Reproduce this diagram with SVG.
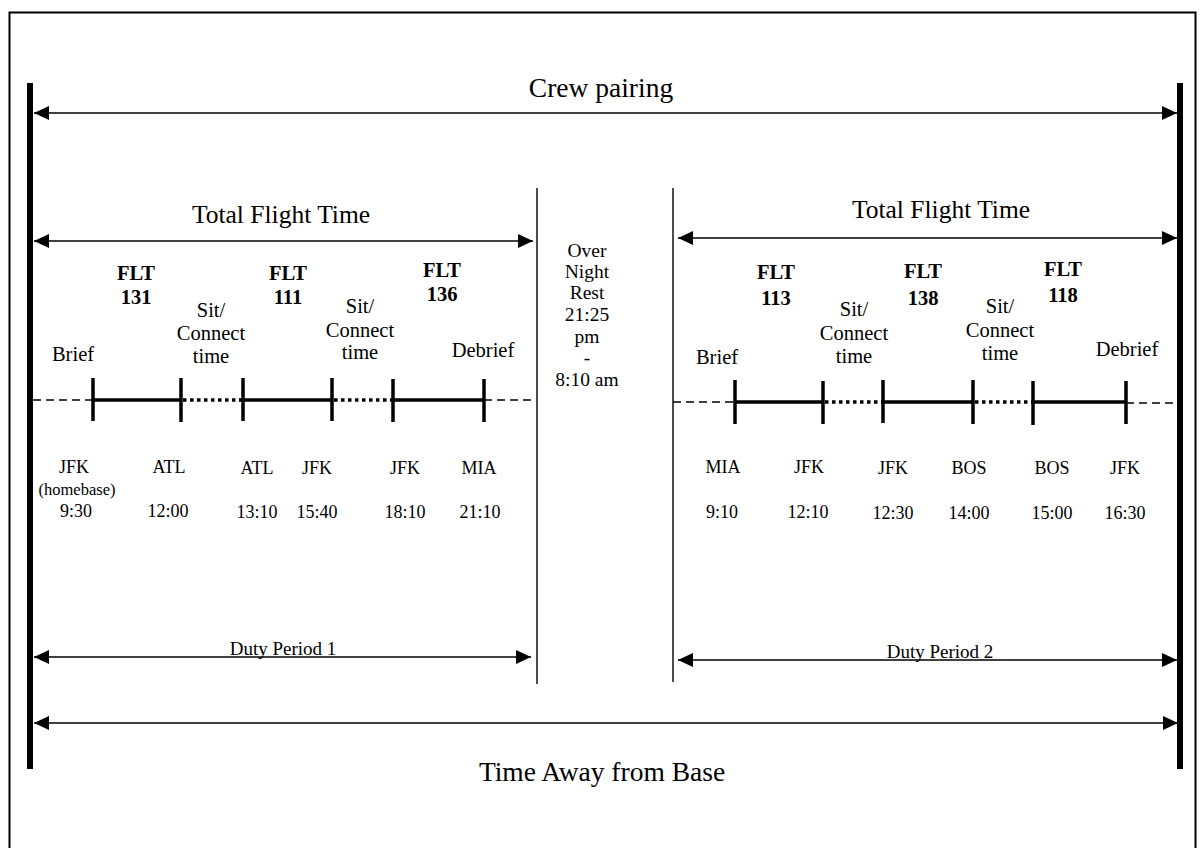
<svg xmlns="http://www.w3.org/2000/svg" width="1203" height="848" viewBox="0 0 1203 848">
  <defs>
    <marker id="arrow" markerUnits="userSpaceOnUse" markerWidth="16" markerHeight="16" refX="15" refY="7" orient="auto-start-reverse">
      <path d="M0,0 L15,7 L0,14 z" fill="#000"/>
    </marker>
    <style>
      text { font-family: "Liberation Serif", "Times New Roman", serif; fill: #000; text-anchor: middle; }
      .big { font-size: 27.5px; }
      .title { font-size: 25.5px; }
      .mid { font-size: 20.5px; }
      .rest { font-size: 19.5px; }
      .stop { font-size: 18px; }
      .note { font-size: 16.5px; }
      .small { font-size: 19px; }
      .bold { font-weight: bold; font-size: 20.5px; }
      .span { stroke: #000; stroke-width: 1.4; fill: none; marker-start: url(#arrow); marker-end: url(#arrow); }
      .bar { stroke: #000; stroke-width: 6; }
      .divider { stroke: #000; stroke-width: 1.4; }
      .dash { stroke: #000; stroke-width: 1.4; stroke-dasharray: 8 5; }
      .flight { stroke: #000; stroke-width: 3.5; }
      .sit { stroke: #000; stroke-width: 3.5; stroke-dasharray: 3.5 3.5; }
      .tick { stroke: #000; stroke-width: 3.5; }
    </style>
  </defs>

  <rect width="1203" height="848" fill="#fff"/>
  <!-- outer frame (runs past the bottom edge) -->
  <rect x="9.5" y="12.5" width="1186" height="860" fill="none" stroke="#000" stroke-width="2"/>

  <!-- base boundaries -->
  <g id="base-bounds">
    <line class="bar" x1="30" y1="83" x2="30" y2="769"/>
    <line class="bar" x1="1180" y1="83" x2="1180" y2="769"/>
  </g>

  <!-- duty period separators -->
  <g id="separators">
    <line class="divider" x1="537" y1="188" x2="537" y2="684"/>
    <line class="divider" x1="673" y1="188" x2="673" y2="682"/>
  </g>

  <!-- span arrows -->
  <g id="connectors">
    <line class="span" x1="34" y1="113" x2="1177" y2="113"/>
    <line class="span" x1="34" y1="241" x2="533" y2="241"/>
    <line class="span" x1="678" y1="238" x2="1177" y2="238"/>
    <line class="span" x1="34" y1="657" x2="531" y2="657"/>
    <line class="span" x1="678" y1="660" x2="1177" y2="660"/>
    <line class="span" x1="34" y1="723" x2="1178" y2="723"/>
  </g>

  <g id="crew-pairing"><text class="big" x="601" y="97">Crew pairing</text></g>
  <g id="total-flight-time-1"><text class="title" x="281" y="223">Total Flight Time</text></g>
  <g id="total-flight-time-2"><text class="title" x="941" y="218">Total Flight Time</text></g>
  <g id="duty-period-1"><text class="small" x="283" y="655">Duty Period 1</text></g>
  <g id="duty-period-2"><text class="small" x="940" y="658">Duty Period 2</text></g>
  <g id="time-away"><text class="big" x="602" y="781">Time Away from Base</text></g>

  <!-- overnight rest -->
  <g id="overnight-rest">
    <text class="rest" x="587" y="257">Over</text>
    <text class="rest" x="587" y="278">Night</text>
    <text class="rest" x="587" y="299">Rest</text>
    <text class="rest" x="587" y="321">21:25</text>
    <text class="rest" x="587" y="343">pm</text>
    <text class="rest" x="587" y="364">-</text>
    <text class="rest" x="587" y="386">8:10 am</text>
  </g>

  <!-- duty period 1 timeline -->
  <g id="timeline-1">
    <line class="dash" x1="33" y1="400" x2="93" y2="400"/>
    <line class="flight" x1="93" y1="400" x2="181" y2="400"/>
    <line class="sit" x1="183" y1="400" x2="243" y2="400"/>
    <line class="flight" x1="243" y1="400" x2="332" y2="400"/>
    <line class="sit" x1="334" y1="400" x2="393" y2="400"/>
    <line class="flight" x1="393" y1="400" x2="484" y2="400"/>
    <line class="dash" x1="484" y1="400" x2="533" y2="400"/>
    <line class="tick" x1="93" y1="378" x2="93" y2="421"/>
    <line class="tick" x1="181" y1="378" x2="181" y2="422"/>
    <line class="tick" x1="243" y1="378" x2="243" y2="421"/>
    <line class="tick" x1="332" y1="378" x2="332" y2="421"/>
    <line class="tick" x1="393" y1="379" x2="393" y2="422"/>
    <line class="tick" x1="484" y1="379" x2="484" y2="422"/>
  </g>

  <g id="labels-1">
    <text class="mid" x="73" y="361">Brief</text>
    <text class="bold" x="136" y="280">FLT</text>
    <text class="bold" x="136" y="304">131</text>
    <text class="mid" x="211" y="317">Sit/</text>
    <text class="mid" x="211" y="340">Connect</text>
    <text class="mid" x="211" y="363">time</text>
    <text class="bold" x="288" y="280">FLT</text>
    <text class="bold" x="288" y="304">111</text>
    <text class="mid" x="360" y="313">Sit/</text>
    <text class="mid" x="360" y="337">Connect</text>
    <text class="mid" x="360" y="359">time</text>
    <text class="bold" x="442" y="277">FLT</text>
    <text class="bold" x="442" y="301">136</text>
    <text class="mid" x="483" y="357">Debrief</text>

    <text class="stop" x="74" y="473">JFK</text>
    <text class="note" x="77" y="495">(homebase)</text>
    <text class="stop" x="76" y="517">9:30</text>
    <text class="stop" x="169" y="473">ATL</text>
    <text class="stop" x="168" y="517">12:00</text>
    <text class="stop" x="257" y="474">ATL</text>
    <text class="stop" x="257" y="518">13:10</text>
    <text class="stop" x="317" y="474">JFK</text>
    <text class="stop" x="317" y="518">15:40</text>
    <text class="stop" x="405" y="474">JFK</text>
    <text class="stop" x="405" y="518">18:10</text>
    <text class="stop" x="479" y="474">MIA</text>
    <text class="stop" x="480" y="518">21:10</text>
  </g>

  <!-- duty period 2 timeline -->
  <g id="timeline-2">
    <line class="dash" x1="673" y1="402" x2="735" y2="402"/>
    <line class="flight" x1="735" y1="402" x2="823" y2="402"/>
    <line class="sit" x1="825" y1="402" x2="883" y2="402"/>
    <line class="flight" x1="883" y1="402" x2="973" y2="402"/>
    <line class="sit" x1="975" y1="402" x2="1033" y2="402"/>
    <line class="flight" x1="1033" y1="402" x2="1126" y2="402"/>
    <line class="dash" x1="1126" y1="403" x2="1174" y2="403"/>
    <line class="tick" x1="735" y1="380" x2="735" y2="424"/>
    <line class="tick" x1="823" y1="381" x2="823" y2="424"/>
    <line class="tick" x1="883" y1="380" x2="883" y2="423"/>
    <line class="tick" x1="973" y1="380" x2="973" y2="424"/>
    <line class="tick" x1="1033" y1="381" x2="1033" y2="425"/>
    <line class="tick" x1="1126" y1="381" x2="1126" y2="424"/>
  </g>

  <g id="labels-2">
    <text class="mid" x="717" y="364">Brief</text>
    <text class="bold" x="776" y="279">FLT</text>
    <text class="bold" x="776" y="305">113</text>
    <text class="mid" x="854" y="316">Sit/</text>
    <text class="mid" x="854" y="340">Connect</text>
    <text class="mid" x="854" y="363">time</text>
    <text class="bold" x="923" y="278">FLT</text>
    <text class="bold" x="923" y="305">138</text>
    <text class="mid" x="1000" y="313">Sit/</text>
    <text class="mid" x="1000" y="337">Connect</text>
    <text class="mid" x="1000" y="360">time</text>
    <text class="bold" x="1063" y="276">FLT</text>
    <text class="bold" x="1063" y="302">118</text>
    <text class="mid" x="1127" y="356">Debrief</text>

    <text class="stop" x="723" y="473">MIA</text>
    <text class="stop" x="722" y="518">9:10</text>
    <text class="stop" x="809" y="473">JFK</text>
    <text class="stop" x="808" y="518">12:10</text>
    <text class="stop" x="893" y="474">JFK</text>
    <text class="stop" x="893" y="519">12:30</text>
    <text class="stop" x="969" y="474">BOS</text>
    <text class="stop" x="969" y="519">14:00</text>
    <text class="stop" x="1052" y="474">BOS</text>
    <text class="stop" x="1052" y="519">15:00</text>
    <text class="stop" x="1125" y="474">JFK</text>
    <text class="stop" x="1125" y="519">16:30</text>
  </g>
</svg>
